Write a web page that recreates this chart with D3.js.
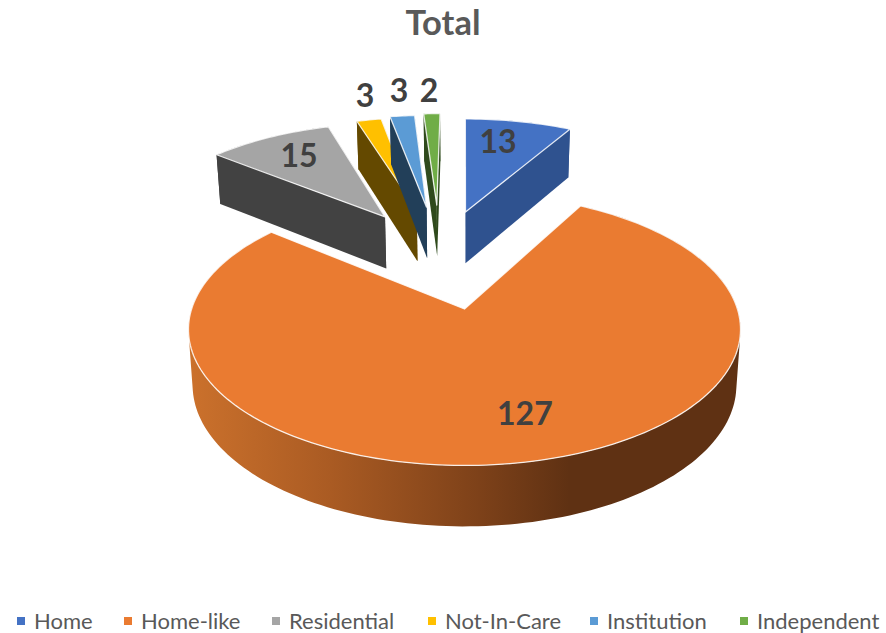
<!DOCTYPE html>
<html>
<head>
<meta charset="utf-8">
<script src="https://cdn.jsdelivr.net/npm/d3@7/dist/d3.min.js"></script>
<style>
html,body{margin:0;padding:0;background:#fff;overflow:hidden}
svg{display:block}
text{font-family:Lato,"Open Sans",sans-serif}
</style>
</head>
<body>
<svg id="chart" width="886" height="633"></svg>
<script>
// ---- data ----
const chartTitle = "Total";
const categories = ["Home", "Home-like", "Residential", "Not-In-Care", "Institution", "Independent"];
const values = [13, 127, 15, 3, 3, 2];

// ---- styles ----
const topColors  = ["#4472c4", "#ea7b31", "#a5a5a5", "#ffc000", "#5b9bd5", "#70ad47"];
const wallColors = ["#2f528f", "#5f3113", "#424242", "#644900", "#223f59", "#2f4a1c"];

// ---- layout: pie-plane offsets (explosion) and label anchors, in pie radii ----
const explodeX = [0.004, 0, -0.325, -0.197, -0.157, -0.115];
const explodeZ = [0.819, 0, 0.772, 0.838, 0.865, 0.885];
const labelX = [0.152, 0.198, -0.734, -0.48, -0.318, -0.1725];
const labelZ = [1.558, -0.70, 1.401, 2.108, 2.174, 2.174];
const legendMarkerX = [17, 124, 272, 428, 590, 740];
const paintOrder = [2, 3, 4, 5, 0, 1];

const cx = 464.5, cy = 309, rx = 272.9, ry = 133, persp = 0.15;

function project(X, Z) {
  const k = 1 / (1 + persp * Z);
  return {x: cx + rx * X * k, y: cy - ry * Z * k, k};
}
function lower(p) {
  return {x: cx + (p.x - cx) * 0.985, y: p.y + 21.5 + 33.5 * p.k};
}

const svg = d3.select("#chart");
const defs = svg.append("defs");
const grad = defs.append("linearGradient").attr("id", "rim")
  .attr("gradientUnits", "userSpaceOnUse")
  .attr("x1", 190).attr("x2", 740).attr("y1", 0).attr("y2", 0);
[[0, "#cb712c"], [0.255, "#aa5b23"], [0.527, "#7d4119"], [0.69, "#5f3113"], [1, "#5f3113"]]
  .forEach(([o, c]) => grad.append("stop").attr("offset", o).attr("stop-color", c));

const pie = d3.pie().sort(null).startAngle(0).endAngle(2 * Math.PI);
const arcs = pie(values);
const line = d3.line().x(d => d.x).y(d => d.y);

function rimPoint(i, a) {
  return project(explodeX[i] + Math.sin(a), explodeZ[i] + Math.cos(a));
}
function arcPoints(i) {
  const a0 = arcs[i].startAngle, a1 = arcs[i].endAngle;
  const n = Math.max(8, Math.ceil((a1 - a0) * 40));
  return d3.range(n + 1).map(j => rimPoint(i, a0 + (a1 - a0) * j / n));
}
// outer wall swept as quads of one winding, so the silhouette stays full at the sides
function sweptWall(rim) {
  return d3.pairs(rim).map(([p, q]) => {
    const quad = [p, q, lower(q), lower(p)];
    const area = d3.polygonArea(quad.map(d => [d.x, d.y]));
    return line(area < 0 ? quad.reverse() : quad) + "Z";
  }).join("");
}

const pieG = svg.append("g");
paintOrder.forEach(i => {
  const g = pieG.append("g");
  const tip = project(explodeX[i], explodeZ[i]);
  const rim = arcPoints(i);
  const first = rim[0], last = rim[rim.length - 1];

  g.append("path")
    .attr("d", sweptWall(rim))
    .attr("fill", i === 1 ? "url(#rim)" : wallColors[i]);

  // the two cut faces
  if (i !== 1) {
    const face = p => line([tip, p, lower(p), lower(tip)]) + "Z";
    const faces = i === 0 ? [first, last] : [last, first];
    faces.forEach(p => g.append("path").attr("d", face(p)).attr("fill", wallColors[i]));
  }

  // top surface
  g.append("path")
    .attr("d", line([tip].concat(rim)) + "Z")
    .attr("fill", topColors[i])
    .attr("stroke", "#ffffff").attr("stroke-opacity", 0.85).attr("stroke-width", 1.3)
    .attr("stroke-linejoin", "round");
});

// data labels
svg.append("g").selectAll("text").data(values).join("text")
  .attr("x", (d, i) => project(labelX[i], labelZ[i]).x)
  .attr("y", (d, i) => project(labelX[i], labelZ[i]).y + 11.5)
  .attr("text-anchor", "middle")
  .attr("font-size", 32).attr("font-weight", 700).attr("fill", "#404040")
  .text(d => d);

// title
svg.append("text").attr("x", 443).attr("y", 35).attr("text-anchor", "middle")
  .attr("font-size", 34.5).attr("font-weight", 700).attr("fill", "#595959")
  .text(chartTitle);

// legend
const legend = svg.append("g").selectAll("g").data(categories).join("g")
  .attr("transform", (d, i) => `translate(${legendMarkerX[i]},0)`);
legend.append("rect").attr("x", 0).attr("y", 617).attr("width", 8).attr("height", 8)
  .attr("fill", (d, i) => topColors[i]);
legend.append("text").attr("x", 17).attr("y", 629)
  .attr("font-size", 22).attr("fill", "#595959").text(d => d);
</script>
</body>
</html>
